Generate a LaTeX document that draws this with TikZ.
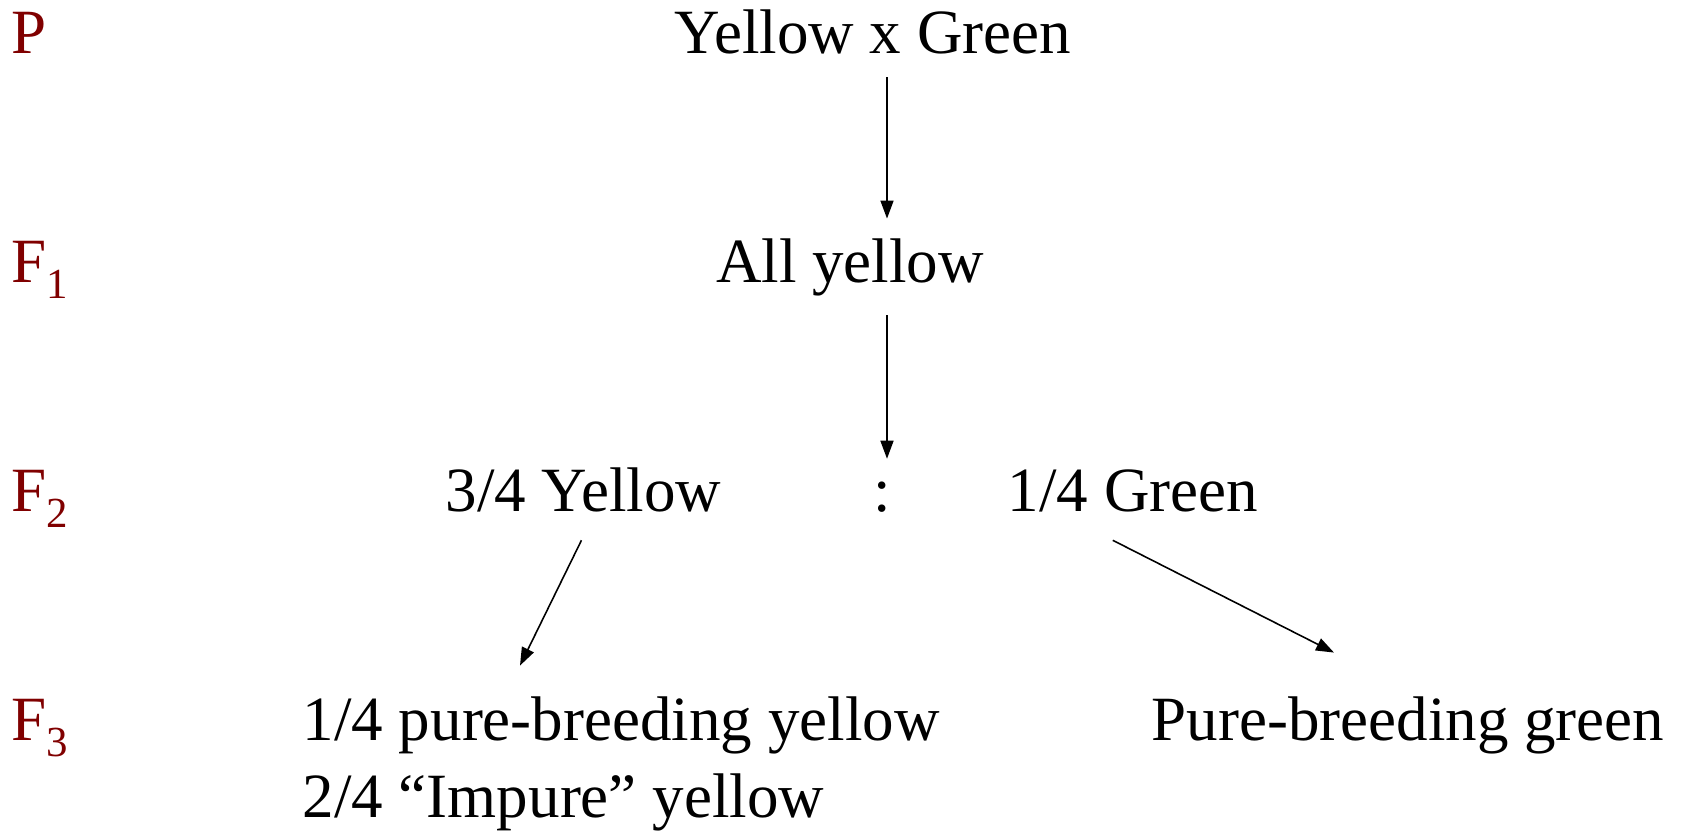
\documentclass[tikz,border=0pt]{standalone}
\usepackage{fontspec}
\setmainfont{Liberation Serif}
\usetikzlibrary{arrows.meta}
\definecolor{gencolor}{HTML}{800000}
\newcommand{\gensub}[1]{F\raisebox{-1.6mm}{\fontsize{12.2pt}{13pt}\selectfont #1}}

\begin{document}
\begin{tikzpicture}[
    txt/.style={inner sep=0pt, font=\fontsize{17.93pt}{21pt}\selectfont},
    gen/.style={txt, anchor=base west, text=gencolor},
    arr/.style={-{Triangle[length=1.8mm,width=1.3mm]}, line width=0.45pt}
  ]
            \useasboundingbox (0,0) rectangle (16.94,-8.32);

            \node[gen] (p) at (0.11, -0.54) {P};
            \node[gen] (f1) at (0.11, -2.83) {\gensub{1}};
            \node[gen] (f2) at (0.11, -5.12) {\gensub{2}};
            \node[gen] (f3) at (0.11, -7.41) {\gensub{3}};

            \node[txt, anchor=base] (cross) at (8.73, -0.54) {Yellow x Green};
            \node[txt, anchor=base] (allyellow) at (8.50, -2.83) {All yellow};

            \node[txt, anchor=base west] (yellow) at (4.45, -5.12) {3/4 Yellow};
            \node[txt, anchor=base] (ratio) at (8.82, -5.12) {:};
            \node[txt, anchor=base west] (green) at (10.07, -5.12) {1/4 Green};

            \node[txt, anchor=base west] (pureyellow) at (3.02, -7.41) {1/4 pure-breeding yellow};
            \node[txt, anchor=base west] (impure) at (3.02, -8.18) {2/4 “Impure” yellow};
            \node[txt, anchor=base west] (puregreen) at (11.51, -7.41) {Pure-breeding green};

            \coordinate (stem) at (8.87, 0);

            \draw[arr, shorten <=2.2mm, shorten >=2mm] (cross.south -| stem) to (allyellow.north -| stem);
            \draw[arr, shorten <=1.8mm, shorten >=2.3mm] (allyellow.south -| stem) to (ratio.north -| stem);
            \draw[arr] ([xshift=-0.2mm, yshift=-2.7mm]yellow.south) to ([xshift=21.8mm, yshift=3.1mm]pureyellow.north west);
            \draw[arr] ([xshift=-2mm, yshift=-2.7mm]green.south) to ([xshift=18.3mm, yshift=4.4mm]puregreen.north west);
        \end{tikzpicture}
\end{document}
